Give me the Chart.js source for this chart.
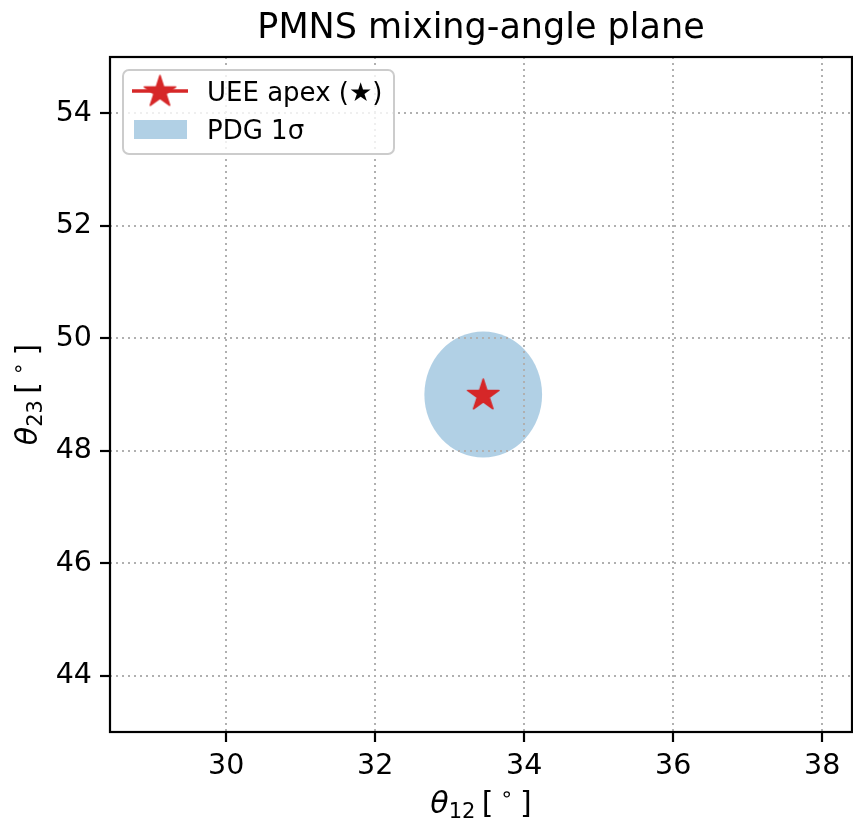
<!DOCTYPE html>
<html>
<head>
<meta charset="utf-8">
<script src="https://cdn.jsdelivr.net/npm/chart.js@4.4.1/dist/chart.umd.min.js"></script>
<style>
  html, body { margin: 0; padding: 0; background: #fff; }
  #wrap { width: 853px; height: 825px; }
</style>
</head>
<body>
<div id="wrap"><canvas id="myChart" width="853" height="825"></canvas></div>
<script>
// data
const apexTheta12 = [33.45];
const apexTheta23 = [49.0];
const pdgCenter = [33.45, 49.0];   // theta12, theta23
const pdgSigma = [0.79, 1.12];     // 1 sigma half widths
const xTicks = [30, 32, 34, 36, 38];
const yTicks = [44, 46, 48, 50, 52, 54];
const xRange = [28.44, 38.40];
const yRange = [43, 55];

const RED = '#d62728';
const FONT = '"DejaVu Sans", sans-serif';

// filled star marker like matplotlib '*'
function makeStar(r) {
    const c = document.createElement('canvas');
    const size = Math.ceil(r * 2 + 4);
    c.width = size; c.height = size;
    const g = c.getContext('2d');
    g.translate(size / 2, size / 2 + r * 0.06);
    g.beginPath();
    for (let i = 0; i < 10; i++) {
        const rr = i % 2 === 0 ? r : r * 0.381966;
        const a = -Math.PI / 2 + i * Math.PI / 5;
        const px = rr * Math.cos(a), py = rr * Math.sin(a);
        if (i === 0) g.moveTo(px, py); else g.lineTo(px, py);
    }
    g.closePath();
    g.fillStyle = RED;
    g.fill();
    g.lineJoin = 'round';
    g.lineWidth = 1.5;
    g.strokeStyle = RED;
    g.stroke();
    return c;
}
const starImg = makeStar(16.5);

// theta_{sub} [deg] label drawn like mathtext
function drawMathLabel(ctx, sub, cx, base) {
    const big = 30, small = 21;
    const parts = [
        { t: 'θ', f: 'italic ' + big + 'px ' + FONT, dy: 0 },
        { t: sub, f: small + 'px ' + FONT, dy: 5 },
        { t: ' ', f: '20px ' + FONT, dy: 0 },
        { t: '[', f: big + 'px ' + FONT, dy: 0 },
        { t: ' ∘ ', f: small + 'px ' + FONT, dy: -12 },
        { t: ']', f: big + 'px ' + FONT, dy: 0 }
    ];
    let total = 0;
    parts.forEach(p => { ctx.font = p.f; p.w = ctx.measureText(p.t).width; total += p.w; });
    let x = cx - total / 2;
    ctx.textAlign = 'left';
    ctx.textBaseline = 'alphabetic';
    ctx.fillStyle = '#000';
    parts.forEach(p => { ctx.font = p.f; ctx.fillText(p.t, x, base + p.dy); x += p.w; });
}

const ellipsePlugin = {
    id: 'pdgEllipse',
    beforeDraw(chart) {
        const { ctx, scales: { x, y } } = chart;
        const cx = x.getPixelForValue(pdgCenter[0]);
        const cy = y.getPixelForValue(pdgCenter[1]);
        const rx = Math.abs(x.getPixelForValue(pdgCenter[0] + pdgSigma[0]) - cx);
        const ry = Math.abs(y.getPixelForValue(pdgCenter[1] + pdgSigma[1]) - cy);
        ctx.save();
        ctx.beginPath();
        ctx.ellipse(cx, cy, rx, ry, 0, 0, Math.PI * 2);
        ctx.fillStyle = 'rgba(31,119,180,0.35)';
        ctx.fill();
        ctx.restore();
    }
};

const decorPlugin = {
    id: 'decor',
    afterDraw(chart) {
        const { ctx, chartArea: a } = chart;
        ctx.save();
        // spines
        ctx.strokeStyle = '#000';
        ctx.lineWidth = 2.2;
        ctx.strokeRect(a.left, a.top, a.right - a.left, a.bottom - a.top);

        // title
        ctx.fillStyle = '#000';
        ctx.font = '35px ' + FONT;
        ctx.textAlign = 'center';
        ctx.textBaseline = 'alphabetic';
        ctx.fillText('PMNS mixing-angle plane', (a.left + a.right) / 2, 38);

        // axis labels
        drawMathLabel(ctx, '12', (a.left + a.right) / 2, 813);
        ctx.save();
        ctx.translate(37, (a.top + a.bottom) / 2);
        ctx.rotate(-Math.PI / 2);
        drawMathLabel(ctx, '23', 0, 0);
        ctx.restore();

        // legend
        const lx = 123, ly = 70, lw = 271, lh = 84;
        ctx.beginPath();
        ctx.roundRect(lx, ly, lw, lh, 6);
        ctx.fillStyle = 'rgba(255,255,255,0.8)';
        ctx.fill();
        ctx.strokeStyle = '#cccccc';
        ctx.lineWidth = 2;
        ctx.stroke();

        ctx.beginPath();
        ctx.moveTo(132, 91);
        ctx.lineTo(188, 91);
        ctx.strokeStyle = RED;
        ctx.lineWidth = 3.5;
        ctx.stroke();
        ctx.drawImage(starImg, 160 - starImg.width / 2, 91 - starImg.height / 2);

        ctx.fillStyle = 'rgba(31,119,180,0.35)';
        ctx.fillRect(134, 120, 53, 19);

        ctx.fillStyle = '#000';
        ctx.font = '26px ' + FONT;
        ctx.textAlign = 'left';
        ctx.fillText('UEE apex (★)', 207, 101);
        ctx.fillText('PDG 1σ', 207, 139);
        ctx.restore();
    }
};

const gridOpts = {
    color: '#b0b0b0',
    lineWidth: 2,
    tickLength: 10,
    tickColor: '#000',
    tickWidth: 2.2,
    tickBorderDash: []
};

const ctx = document.getElementById('myChart');
const myChart = new Chart(ctx, {
    type: 'scatter',
    data: {
        datasets: [{
            label: 'UEE apex (★)',
            data: apexTheta12.map((v, i) => ({ x: v, y: apexTheta23[i] })),
            pointStyle: starImg,
            showLine: false
        }]
    },
    options: {
        responsive: false,
        animation: false,
        layout: { autoPadding: false, padding: { top: 57, right: 1, left: 0, bottom: 0 } },
        plugins: { legend: { display: false }, title: { display: false }, tooltip: { enabled: false } },
        scales: {
            x: {
                type: 'linear',
                min: xRange[0],
                max: xRange[1],
                afterBuildTicks: s => { s.ticks = xTicks.map(v => ({ value: v })); },
                afterFit: s => { s.height = 93; s.paddingLeft = 0; s.paddingRight = 0; },
                grid: gridOpts,
                border: { display: false, dash: [2, 4] },
                ticks: { padding: 7, color: '#000', font: { family: FONT, size: 28.5 } }
            },
            y: {
                type: 'linear',
                min: yRange[0],
                max: yRange[1],
                afterBuildTicks: s => { s.ticks = yTicks.map(v => ({ value: v })); },
                afterFit: s => { s.width = 110; s.paddingTop = 0; s.paddingBottom = 0; },
                grid: gridOpts,
                border: { display: false, dash: [2, 4] },
                ticks: { padding: 8, color: '#000', font: { family: FONT, size: 28.5 } }
            }
        }
    },
    plugins: [ellipsePlugin, decorPlugin]
});
</script>
</body>
</html>
